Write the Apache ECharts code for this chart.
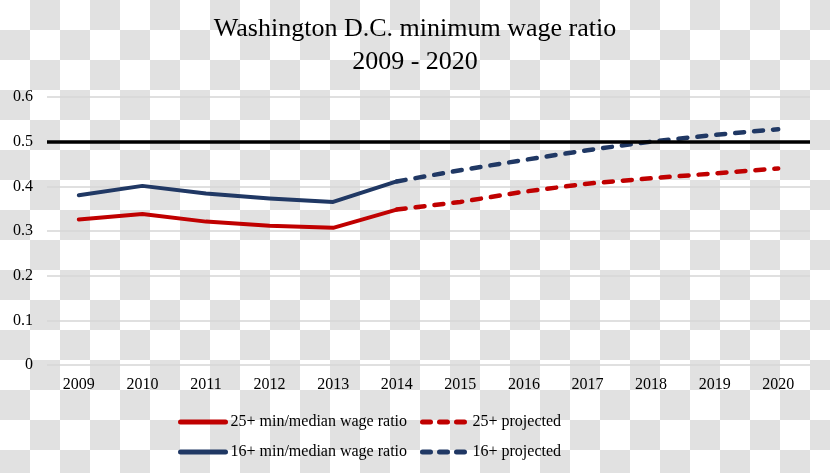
<!DOCTYPE html>
<html>
<head>
<meta charset="utf-8">
<script src="https://cdn.jsdelivr.net/npm/echarts@6/dist/echarts.min.js"></script>
<style>
  html, body { margin: 0; padding: 0; }
  #chart {
    width: 830px; height: 473px;
    background-color: #ffffff;
    background-image: repeating-conic-gradient(#e1e1e1 0% 25%, #ffffff 0% 50%);
    background-size: 60px 60px;
    background-position: 0 0;
  }
</style>
</head>
<body>
<div id="chart"></div>
<script>
const years = ['2009','2010','2011','2012','2013','2014','2015','2016','2017','2018','2019','2020'];
const ratio25 = [0.326, 0.338, 0.321, 0.312, 0.307, 0.348];
const ratio16 = [0.380, 0.401, 0.384, 0.373, 0.365, 0.411];
const proj25 = [0.348, 0.365, 0.388, 0.406, 0.418, 0.429, 0.440];   // 2014-2020
const proj16 = [0.411, 0.436, 0.459, 0.481, 0.500, 0.515, 0.528];   // 2014-2020
const yTicks = [0, 0.1, 0.2, 0.3, 0.4, 0.5, 0.6];
const threshold = 0.5;

const RED = '#c00000';
const BLUE = '#203864';
const FONT = '"Liberation Serif", "DejaVu Serif", serif';
const DASH = [9, 10];

const projStart = years.indexOf('2014');
const pad = (arr, offset) => years.map((_, i) => {
  const j = i - offset;
  return (j >= 0 && j < arr.length) ? arr[j] : null;
});

const names = ['25+ min/median wage ratio', '25+ projected', '16+ min/median wage ratio', '16+ projected'];

function legendFor(name, color, dashed, left, top) {
  return {
    orient: 'horizontal',
    left: left, top: top,
    itemWidth: 45,
    itemHeight: 14,
    itemGap: 0,
    padding: 0,
    selectedMode: false,
    data: [name],
    textStyle: { fontFamily: FONT, fontSize: 16, color: '#000' },
    itemStyle: { opacity: 0, color: 'transparent', borderWidth: 0 },
    lineStyle: {
      color: color, width: 5, cap: 'round',
      type: dashed ? [8, 9] : 'solid'
    }
  };
}

const chart = echarts.init(document.getElementById('chart'), null, { renderer: 'canvas' });
chart.setOption({
  backgroundColor: 'transparent',
  animation: false,
  title: {
    text: 'Washington D.C. minimum wage ratio\n2009 - 2020',
    left: 'center',
    top: 13,
    padding: 0,
    textStyle: { fontFamily: FONT, fontSize: 26, fontWeight: 'normal', color: '#000', lineHeight: 33 }
  },
  legend: [
    legendFor(names[0], RED, false, 178, 414),
    legendFor(names[1], RED, true, 420, 414),
    legendFor(names[2], BLUE, false, 178, 444),
    legendFor(names[3], BLUE, true, 420, 444)
  ],
  grid: { left: 47, right: 20, top: 97, bottom: 108, containLabel: false },
  xAxis: {
    type: 'category',
    data: years,
    boundaryGap: true,
    axisLine: { show: false },
    axisTick: { show: false },
    axisLabel: { fontFamily: FONT, fontSize: 16, color: '#000', margin: 12 }
  },
  yAxis: {
    type: 'value',
    min: yTicks[0],
    max: yTicks[yTicks.length - 1],
    interval: 0.1,
    axisLine: { show: false },
    axisTick: { show: false },
    axisLabel: {
      fontFamily: FONT, fontSize: 16, color: '#000', margin: 14,
      formatter: v => (Math.abs(v) < 1e-9 ? '0' : v.toFixed(1))
    },
    splitLine: { lineStyle: { color: '#d6d6d6', width: 1.5 } }
  },
  series: [
    {
      name: names[0], type: 'line', data: pad(ratio25, 0),
      symbol: 'none', color: RED,
      lineStyle: { color: RED, width: 4, cap: 'round', join: 'round' },
      z: 3,
      markLine: {
        silent: true, symbol: 'none', animation: false,
        label: { show: false },
        lineStyle: { color: '#000', width: 3.5, type: 'solid' },
        data: [{ yAxis: threshold }]
      }
    },
    {
      name: names[1], type: 'line', data: pad(proj25, projStart),
      symbol: 'none', color: RED,
      lineStyle: { color: RED, width: 4.5, type: DASH, cap: 'round' },
      z: 3
    },
    {
      name: names[2], type: 'line', data: pad(ratio16, 0),
      symbol: 'none', color: BLUE,
      lineStyle: { color: BLUE, width: 4, cap: 'round', join: 'round' },
      z: 3
    },
    {
      name: names[3], type: 'line', data: pad(proj16, projStart),
      symbol: 'none', color: BLUE,
      lineStyle: { color: BLUE, width: 4.5, type: DASH, cap: 'round' },
      z: 3
    }
  ]
});
</script>
</body>
</html>
